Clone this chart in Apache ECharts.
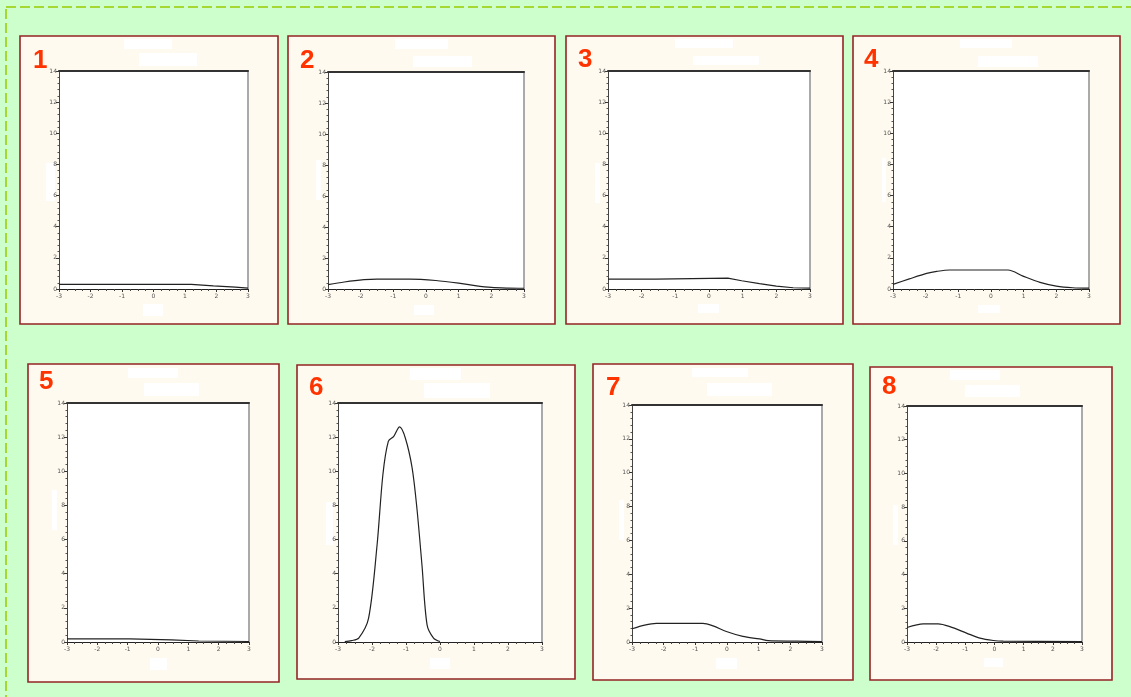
<!DOCTYPE html>
<html>
<head>
<meta charset="utf-8">
<script src="https://cdn.jsdelivr.net/npm/echarts@6/dist/echarts.min.js"></script>
<style>
  html, body { margin: 0; padding: 0; background: #ccffcc; }
  #chart { width: 1131px; height: 697px; }
</style>
</head>
<body>
<div id="chart"></div>
<script>
// axis ticks shared by all eight panels
const xTicks = [-3, -2, -1, 0, 1, 2, 3]
const yTicks = [0, 2, 4, 6, 8, 10, 12, 14]
const panelLabels = ['1', '2', '3', '4', '5', '6', '7', '8']

// curve values, one pair of arrays per panel
const x1 = [-3, 1.2, 1.25, 1.9, 1.95, 2.6, 2.65, 3]
const y1 = [0.3, 0.3, 0.2, 0.2, 0.13, 0.12, 0.05, 0.05]

const x2 = [-3, -2.5, -1.9, -1.5, -0.5, 0.3, 1.0, 1.5, 2.0, 2.5, 3]
const y2 = [0.28, 0.45, 0.6, 0.64, 0.64, 0.55, 0.38, 0.22, 0.1, 0.06, 0.05]

const x3 = [-3, -1.57, -1.55, 0.56, 0.97, 1.5, 2.0, 2.5, 3]
const y3 = [0.64, 0.64, 0.7, 0.7, 0.53, 0.35, 0.19, 0.08, 0.05]

const x4 = [-3, -2.5, -1.97, -1.66, -1.26, 0.52, 0.98, 1.5, 2.0, 2.5, 3]
const y4 = [0.3, 0.65, 1.0, 1.13, 1.22, 1.22, 0.83, 0.43, 0.19, 0.08, 0.05]

const x5 = [-3, -0.93, -0.9, 0.44, 0.47, 1.34, 1.37, 3]
const y5 = [0.18, 0.18, 0.12, 0.12, 0.06, 0.06, 0.03, 0.03]

const x6 = [-2.8, -2.6, -2.39, -2.1, -1.85, -1.68, -1.52, -1.36, -1.19, -1.02, -0.82, -0.68, -0.53, -0.38, -0.19, 0]
const y6 = [0.02, 0.08, 0.23, 1.4, 5.7, 9.8, 11.75, 12.05, 12.6, 11.95, 10.2, 7.85, 4.5, 1.0, 0.23, 0.03]

const x7 = [-3, -2.6, -2.23, -0.76, -0.44, -0.02, 0.5, 1.03, 1.3, 2.19, 3]
const y7 = [0.78, 1.0, 1.1, 1.1, 0.95, 0.62, 0.33, 0.18, 0.08, 0.05, 0.02]

const x8 = [-3, -2.44, -1.93, -1.53, -0.96, -0.5, -0.04, 0.3, 3]
const y8 = [0.86, 1.07, 1.07, 0.91, 0.53, 0.23, 0.09, 0.05, 0.02]

const curvesX = [x1, x2, x3, x4, x5, x6, x7, x8]
const curvesY = [y1, y2, y3, y4, y5, y6, y7, y8]

// layout: panel frame, plot area, label spot, redacted text boxes
const panels = [
  { box: [20, 36, 258, 288], plot: [59, 71, 189, 218], num: [33, 48], smooth: false,
    blanks: [[124, 39, 48, 10], [139, 53, 58, 13], [46, 163, 9, 38], [143, 304, 20, 12]] },
  { box: [288, 36, 267, 288], plot: [328, 72, 196, 217], num: [300, 48], smooth: 0.3,
    blanks: [[395, 39, 53, 10], [413, 56, 59, 11], [316, 160, 5, 40], [414, 305, 20, 10]] },
  { box: [566, 36, 277, 288], plot: [608, 71, 202, 218], num: [578, 47], smooth: false,
    blanks: [[675, 39, 58, 9], [693, 56, 66, 9], [595, 163, 5, 40], [698, 304, 21, 9]] },
  { box: [853, 36, 267, 288], plot: [893, 71, 196, 218], num: [864, 47], smooth: 0.3,
    blanks: [[960, 39, 52, 9], [978, 56, 60, 11], [882, 158, 4, 44], [978, 305, 22, 8]] },
  { box: [28, 364, 251, 318], plot: [67, 403, 182, 239], num: [39, 369], smooth: false,
    blanks: [[128, 368, 50, 10], [144, 383, 55, 13], [52, 490, 5, 40], [150, 658, 17, 12]] },
  { box: [297, 365, 278, 314], plot: [338, 403, 204, 239], num: [309, 375], smooth: 0.3,
    blanks: [[410, 368, 51, 12], [424, 383, 66, 15], [326, 502, 7, 43], [430, 658, 20, 11]] },
  { box: [593, 364, 260, 316], plot: [632, 405, 190, 237], num: [606, 375], smooth: 0.3,
    blanks: [[692, 368, 56, 9], [707, 383, 65, 13], [619, 500, 5, 40], [716, 658, 21, 11]] },
  { box: [870, 367, 242, 313], plot: [907, 406, 175, 236], num: [882, 374], smooth: 0.3,
    blanks: [[950, 370, 50, 10], [965, 385, 55, 12], [893, 505, 5, 40], [984, 658, 19, 9]] }
]

const tickFont = { fontSize: 6, color: '#555', fontFamily: 'DejaVu Sans' }

const grid = []
const xAxis = []
const yAxis = []
const series = []
const graphic = [
  { type: 'rect', silent: true, z: -10, shape: { x: 6, y: 7, width: 1140, height: 700 },
    style: { fill: '#ccffcc', stroke: '#99cc00', lineWidth: 1.5, lineDash: [10, 4] } }
]

panels.forEach((p, i) => {
  const [bx, by, bw, bh] = p.box
  graphic.push({ type: 'rect', silent: true, z: -5, shape: { x: bx, y: by, width: bw, height: bh },
    style: { fill: '#fffaef', stroke: '#952525', lineWidth: 1.6 } })
  graphic.push({ type: 'text', silent: true, x: p.num[0], y: p.num[1],
    style: { text: panelLabels[i], fill: '#ff3300', font: 'bold 26px "Liberation Sans", Arial, sans-serif' } })
  p.blanks.forEach(b => {
    graphic.push({ type: 'rect', silent: true, z: -4, shape: { x: b[0], y: b[1], width: b[2], height: b[3] },
      style: { fill: '#ffffff' } })
  })

  const [gl, gt, gw, gh] = p.plot
  grid.push({ left: gl, top: gt, width: gw, height: gh, show: true, backgroundColor: '#ffffff', borderWidth: 0 })

  xAxis.push({
    type: 'value', gridIndex: i, min: xTicks[0], max: xTicks[xTicks.length - 1], interval: 1,
    axisLine: { onZero: false, lineStyle: { color: '#222', width: 1.2 } },
    axisTick: { length: 3, lineStyle: { color: '#333' } },
    minorTick: { show: true, splitNumber: 4, length: 2, lineStyle: { color: '#444' } },
    axisLabel: { ...tickFont, margin: 4 },
    splitLine: { show: false }
  })
  xAxis.push({
    type: 'value', gridIndex: i, position: 'top', min: xTicks[0], max: xTicks[xTicks.length - 1],
    axisLine: { onZero: false, lineStyle: { color: '#333', width: 2 } },
    axisTick: { show: false }, axisLabel: { show: false }, splitLine: { show: false }
  })
  yAxis.push({
    type: 'value', gridIndex: i, min: yTicks[0], max: yTicks[yTicks.length - 1], interval: 2,
    axisLine: { show: true, onZero: false, lineStyle: { color: '#444', width: 1 } },
    axisTick: { show: true, length: 3, lineStyle: { color: '#333' } },
    minorTick: { show: true, splitNumber: 5, length: 1.5, lineStyle: { color: '#555' } },
    axisLabel: { ...tickFont, margin: 2 },
    splitLine: { show: false }
  })
  yAxis.push({
    type: 'value', gridIndex: i, position: 'right', min: yTicks[0], max: yTicks[yTicks.length - 1],
    axisLine: { show: true, onZero: false, lineStyle: { color: '#aaaaaa', width: 2 } },
    axisTick: { show: false }, axisLabel: { show: false }, splitLine: { show: false }
  })

  series.push({
    type: 'line', xAxisIndex: i * 2, yAxisIndex: i * 2, showSymbol: false, symbol: 'none',
    smooth: p.smooth, silent: true, animation: false,
    lineStyle: { color: '#222', width: 1.2 },
    data: curvesX[i].map((x, k) => [x, curvesY[i][k]])
  })
})

const myChart = echarts.init(document.getElementById('chart'), null, { renderer: 'canvas' })
myChart.setOption({
  animation: false,
  backgroundColor: '#ccffcc',
  graphic: graphic,
  grid: grid,
  xAxis: xAxis,
  yAxis: yAxis,
  series: series
})
</script>
</body>
</html>
